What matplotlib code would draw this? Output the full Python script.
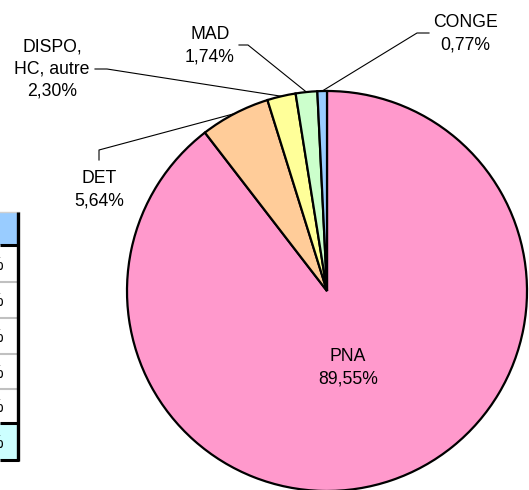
import numpy as np
import matplotlib.pyplot as plt
from matplotlib.patches import Rectangle

plt.rcParams['font.family'] = ['Liberation Sans', 'DejaVu Sans']

# pie data
labels = ["PNA", "DET", "DISPO,\nHC, autre", "MAD", "CONGE"]
values = [89.55, 5.64, 2.30, 1.74, 0.77]
colors = ["#FF99CC", "#FFCC99", "#FFFF99", "#CCFFCC", "#99CCFF"]
pct_text = ["89,55%", "5,64%", "2,30%", "1,74%", "0,77%"]

# cut-off table on the left (row edges in px, fill colours)
table_rows = [212, 245, 282, 318, 354, 389, 423, 460]
table_fill = ["#99CCFF", "white", "white", "white", "white", "white", "#CCFFFF"]

W, H = 529, 490
fig = plt.figure(figsize=(W / 100, H / 100), dpi=100)
ax = fig.add_axes([0, 0, 1, 1])
ax.set_xlim(0, W)
ax.set_ylim(0, H)
ax.axis("off")

def py(y):
    return H - y

cx, cy, r = 327, py(291), 200
ax.pie(values, colors=colors, startangle=90, counterclock=False,
       center=(cx, cy), radius=r, frame=True,
       wedgeprops=dict(edgecolor="black", linewidth=1.6))
ax.set_xlim(0, W)
ax.set_ylim(0, H)
ax.set_aspect("equal")
ax.axis("off")

# mid angle of each slice, for leader anchors
cum = np.cumsum([0] + values[:-1])
mid = [90 - (c + v / 2) * 3.6 for c, v in zip(cum, values)]

def edge(i):
    a = np.deg2rad(mid[i])
    return cx + r * np.cos(a), cy + r * np.sin(a)

fs = 12.7
ls = 1.42
# label positions (px) and leader elbows
label_pos = {0: (348, 368), 1: (99, 190), 2: (52, 69), 3: (210, 46), 4: (465, 34)}
for i in range(len(values)):
    x, y = label_pos[i]
    ax.text(x, py(y), labels[i] + "\n" + pct_text[i], ha="center", va="center",
            fontsize=fs, linespacing=ls, color="black")

lw = 0.8
ex, ey = edge(4)
ax.plot([ex, 417, 429], [ey, py(33), py(33)], color="black", lw=lw)
ex, ey = edge(3)
ax.plot([ex, 248, 239], [ey, py(45), py(45)], color="black", lw=lw)
ex, ey = edge(2)
ax.plot([ex, 107, 95], [ey, py(69), py(69)], color="black", lw=lw)
ex, ey = edge(1)
ax.plot([ex, 99, 99], [ey, py(150), py(160)], color="black", lw=lw)

# table fragment
for k, fc in enumerate(table_fill):
    y0, y1 = table_rows[k], table_rows[k + 1]
    ax.add_patch(Rectangle((0, py(y1)), 17, y1 - y0, facecolor=fc,
                           edgecolor="none", zorder=1))
    if k > 0:
        ax.text(3, py((y0 + y1) / 2 + 2), "%", ha="right", va="center",
                fontsize=fs, color="black")
for k in range(2, len(table_rows) - 2):
    ax.plot([0, 17], [py(table_rows[k])] * 2, color="#C0C0C0", lw=1.5)
for yy in [table_rows[1], table_rows[-2], table_rows[-1]]:
    ax.plot([0, 19], [py(yy)] * 2, color="black", lw=2.2, solid_capstyle="butt")
ax.plot([0, 19], [py(table_rows[0])] * 2, color="#D0D0D0", lw=1)
ax.plot([17.5, 17.5], [py(table_rows[0]), py(table_rows[-1]) - 1],
        color="black", lw=2.4, solid_capstyle="butt")

fig.savefig("out.png", dpi=100)
